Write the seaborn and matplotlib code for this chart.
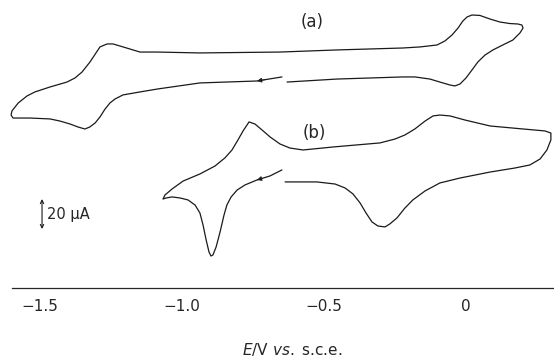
import numpy as np
import pandas as pd
import matplotlib
matplotlib.use("Agg")
import matplotlib.pyplot as plt
import seaborn as sns

# cyclic voltammograms; E in V vs. s.c.e., current in uA (curves offset)
# scan starts at the gap near -0.65 V and runs towards negative potential first
E_a = [-0.648, -0.736, -0.937, -1.085, -1.148, -1.208, -1.236, -1.254, -1.271, -1.289,
       -1.306, -1.325, -1.342, -1.366, -1.394, -1.430, -1.465, -1.535, -1.570, -1.595,
       -1.602, -1.599, -1.577, -1.546, -1.518, -1.465, -1.405, -1.377, -1.352, -1.324,
       -1.303, -1.289, -1.264, -1.243, -1.218, -1.183, -1.148, -1.088, -0.937, -0.655,
       -0.454, -0.222, -0.162, -0.102, -0.074, -0.049, -0.028, -0.011, 0.004, 0.021,
       0.049, 0.085, 0.120, 0.155, 0.183, 0.197, 0.201, 0.190, 0.165, 0.137,
       0.095, 0.067, 0.042, 0.021, 0.000, -0.021, -0.039, -0.056, -0.092, -0.127,
       -0.180, -0.222, -0.454, -0.630]
I_a = [140.7, 138.0, 136.7, 132.7, 130.7, 128.7, 126.0, 123.3, 119.3, 114.0,
       110.0, 107.3, 106.0, 107.3, 109.3, 111.3, 112.7, 113.3, 113.3, 113.3,
       115.3, 118.0, 123.3, 128.0, 130.7, 134.0, 137.3, 140.0, 144.0, 150.7,
       156.7, 160.7, 162.7, 162.7, 161.3, 159.3, 157.3, 157.3, 156.7, 157.3,
       158.7, 160.0, 160.7, 162.0, 164.7, 168.7, 173.3, 178.0, 180.7, 182.0,
       181.7, 179.3, 177.3, 176.3, 176.0, 175.3, 173.3, 170.0, 165.3, 162.7,
       158.7, 155.3, 150.7, 145.3, 140.0, 136.0, 134.7, 135.3, 137.3, 139.3,
       140.7, 140.7, 139.3, 137.3]

E_b = [-0.648, -0.690, -0.736, -0.778, -0.806, -0.827, -0.842, -0.852, -0.866, -0.880,
       -0.891, -0.898, -0.905, -0.915, -0.926, -0.937, -0.954, -0.979, -1.007, -1.035,
       -1.056, -1.067, -1.060, -1.035, -0.996, -0.937, -0.884, -0.849, -0.824, -0.803,
       -0.785, -0.764, -0.743, -0.718, -0.690, -0.655, -0.620, -0.574, -0.468, -0.303,
       -0.250, -0.215, -0.180, -0.144, -0.116, -0.092, -0.056, -0.004, 0.085, 0.201,
       0.278, 0.299, 0.299, 0.285, 0.261, 0.225, 0.173, 0.085, -0.021, -0.092,
       -0.144, -0.187, -0.215, -0.243, -0.268, -0.285, -0.310, -0.331, -0.352, -0.373,
       -0.398, -0.426, -0.461, -0.525, -0.637]
I_b = [78.7, 74.7, 72.0, 68.7, 65.3, 60.7, 55.3, 48.7, 37.3, 27.3,
       22.0, 21.3, 24.0, 32.0, 42.0, 50.0, 55.3, 58.7, 60.0, 60.7,
       60.0, 59.3, 62.0, 66.0, 71.3, 76.0, 81.3, 86.7, 92.0, 98.7,
       104.7, 110.7, 109.3, 105.3, 100.7, 96.0, 93.3, 92.0, 94.0, 96.7,
       99.3, 102.0, 106.0, 111.3, 114.7, 115.3, 114.7, 112.0, 108.0, 106.0,
       104.7, 103.3, 98.7, 92.0, 86.0, 82.0, 80.0, 77.3, 73.3, 70.0,
       64.7, 58.7, 53.3, 46.7, 42.7, 40.7, 41.3, 44.0, 50.0, 56.7,
       62.7, 66.7, 69.3, 70.7, 70.7]

# index of the point where the sweep-direction arrowhead sits
arrow_idx_a = 1
arrow_idx_b = 2

major_ticks = [-1.5, -1.0, -0.5, 0.0]
tick_labels = ["\u22121.5", "\u22121.0", "\u22120.5", "0"]
scale_bar_uA = 20

sns.set_style("white")
plt.rcParams["font.family"] = ["DejaVu Sans"]

df = pd.concat([
    pd.DataFrame({"E": E_a, "I": I_a, "curve": "a", "step": range(len(E_a))}),
    pd.DataFrame({"E": E_b, "I": I_b, "curve": "b", "step": range(len(E_b))}),
])

fig = plt.figure(figsize=(5.54, 3.58), dpi=100)
ax = fig.add_axes([0, 0, 1, 1])

for name, g in df.groupby("curve"):
    sns.lineplot(data=g, x="E", y="I", sort=False, estimator=None, color="#1a1a1a",
                 linewidth=0.9, ax=ax, legend=False)

# direction arrows on the first (cathodic) sweep
for E, I, k in [(E_a, I_a, arrow_idx_a), (E_b, I_b, arrow_idx_b)]:
    ax.annotate("", xy=(E[k], I[k]),
                xytext=(E[k] + 0.4 * (E[k - 1] - E[k]), I[k] + 0.4 * (I[k - 1] - I[k])),
                arrowprops=dict(arrowstyle="-|>", color="#1a1a1a", lw=0.6, mutation_scale=7,
                                shrinkA=0, shrinkB=0))

ax.set_xlim(-1.641, 0.310)
ax.set_ylim(-46.7, 192)

ax.spines["top"].set_visible(False)
ax.spines["right"].set_visible(False)
ax.spines["left"].set_visible(False)
ax.spines["bottom"].set_position(("data", 0))
ax.spines["bottom"].set_bounds(-1.6, 0.31)
ax.spines["bottom"].set_linewidth(0.9)
ax.set_yticks([])
ax.set_xticks(major_ticks)
ax.set_xticklabels(tick_labels, fontsize=11)
ax.set_xticks(np.arange(-1.6, 0.31, 0.1), minor=True)
ax.tick_params(axis="x", which="major", direction="in", length=4, width=0.8, pad=8)
ax.tick_params(axis="x", which="minor", direction="in", length=2, width=0.8)
ax.set_xlabel("")
ax.set_ylabel("")

ax.text(-0.542, 177, "(a)", fontsize=12, ha="center", va="center")
ax.text(-0.535, 103, "(b)", fontsize=12, ha="center", va="center")

# 20 uA scale bar
ax.annotate("", xy=(-1.493, 39.3 + scale_bar_uA), xytext=(-1.493, 39.3),
            arrowprops=dict(arrowstyle="<->", color="#1a1a1a", lw=0.8, mutation_scale=6,
                            shrinkA=0, shrinkB=0))
ax.text(-1.475, 49.3, "20 \u00b5A", fontsize=10.5, ha="left", va="center")

fig.text(0.527, 0.025, r"$E$/V $vs.$ s.c.e.", fontsize=11, ha="center", va="center")

fig.savefig("out.png", dpi=100)
